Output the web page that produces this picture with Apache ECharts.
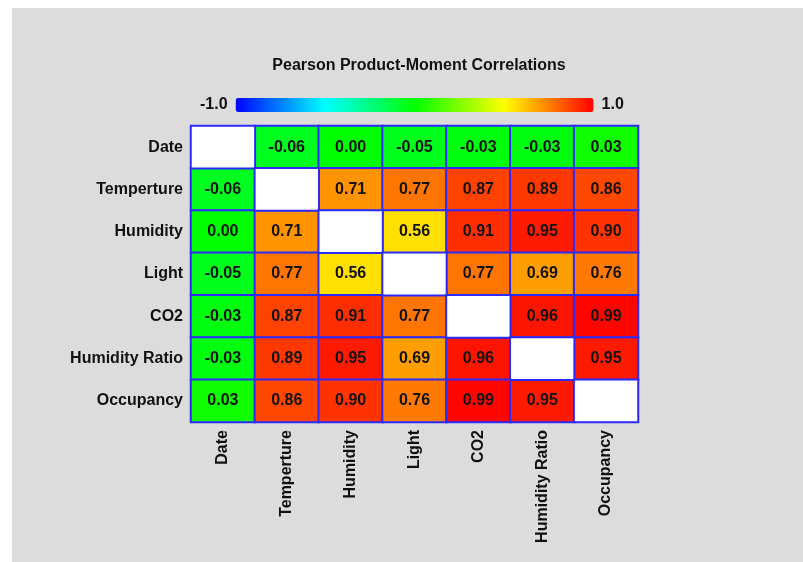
<!DOCTYPE html>
<html>
<head>
<meta charset="utf-8">
<script src="https://cdn.jsdelivr.net/npm/echarts@6/dist/echarts.min.js"></script>
<style>
  html, body { margin: 0; padding: 0; background: #ffffff; }
  #chart { width: 803px; height: 562px; }
</style>
</head>
<body>
<div id="chart"></div>
<script>
// Variables compared in the correlation matrix (rows top to bottom, columns left to right)
const variables = ['Date', 'Temperture', 'Humidity', 'Light', 'CO2', 'Humidity Ratio', 'Occupancy'];

// Pearson coefficients, one array per row variable
const rowDate          = [1.00, -0.06, 0.00, -0.05, -0.03, -0.03, 0.03];
const rowTemperture    = [-0.06, 1.00, 0.71, 0.77, 0.87, 0.89, 0.86];
const rowHumidity      = [0.00, 0.71, 1.00, 0.56, 0.91, 0.95, 0.90];
const rowLight         = [-0.05, 0.77, 0.56, 1.00, 0.77, 0.69, 0.76];
const rowCO2           = [-0.03, 0.87, 0.91, 0.77, 1.00, 0.96, 0.99];
const rowHumidityRatio = [-0.03, 0.89, 0.95, 0.69, 0.96, 1.00, 0.95];
const rowOccupancy     = [0.03, 0.86, 0.90, 0.76, 0.99, 0.95, 1.00];

const scaleMin = -1.0;
const scaleMax = 1.0;
const scaleLabels = ['1.0', '-1.0'];
const chartTitle = 'Pearson Product-Moment Correlations';

const rows = [rowDate, rowTemperture, rowHumidity, rowLight, rowCO2, rowHumidityRatio, rowOccupancy];

// Split cells into the off-diagonal coefficients and the blank diagonal
const offDiag = [];
const diag = [];
rows.forEach((row, r) => {
  row.forEach((v, c) => {
    if (r === c) diag.push([c, r, v]);
    else offDiag.push([c, r, v]);
  });
});

const FONT = 'Liberation Sans, Arial, sans-serif';
const cellBorder = '#2a2aff';

const chart = echarts.init(document.getElementById('chart'), null, { renderer: 'canvas' });
chart.setOption({
  backgroundColor: '#ffffff',
  animation: false,
  graphic: [{
    type: 'rect',
    z: -10,
    silent: true,
    shape: { x: 12, y: 8, width: 791, height: 554 },
    style: { fill: '#dcdcdc' }
  }],
  title: {
    text: chartTitle,
    left: 414,
    top: 53,
    textAlign: 'center',
    textStyle: { fontFamily: FONT, fontSize: 16, fontWeight: 'bold', color: '#111111' }
  },
  visualMap: {
    type: 'continuous',
    seriesIndex: 0,
    min: scaleMin,
    max: scaleMax,
    orient: 'horizontal',
    calculable: false,
    left: 185,
    top: 82,
    itemWidth: 14,
    itemHeight: 358,
    itemGap: 8,
    text: scaleLabels,
    textGap: 8,
    textStyle: { fontFamily: FONT, fontSize: 16, fontWeight: 'bold', color: '#111111' },
    inRange: { color: ['#0000ff', '#00ffff', '#00ff00', '#ffff00', '#ff0000'] }
  },
  grid: {
    left: 191,
    top: 126,
    width: 447,
    height: 296,
    show: true,
    borderColor: cellBorder,
    borderWidth: 2,
    backgroundColor: 'transparent'
  },
  xAxis: {
    type: 'category',
    data: variables,
    position: 'bottom',
    axisLine: { show: false },
    axisTick: { show: false },
    splitLine: { show: false },
    axisLabel: {
      rotate: 90,
      margin: 8,
      interval: 0,
      fontFamily: FONT,
      fontSize: 16,
      fontWeight: 'bold',
      color: '#111111'
    }
  },
  yAxis: {
    type: 'category',
    data: variables,
    inverse: true,
    axisLine: { show: false },
    axisTick: { show: false },
    splitLine: { show: false },
    axisLabel: {
      margin: 8,
      interval: 0,
      fontFamily: FONT,
      fontSize: 16,
      fontWeight: 'bold',
      color: '#111111'
    }
  },
  series: [
    {
      type: 'heatmap',
      data: offDiag,
      itemStyle: { borderColor: cellBorder, borderWidth: 2 },
      label: {
        show: true,
        fontFamily: FONT,
        fontSize: 16,
        fontWeight: 'bold',
        color: '#111111',
        formatter: p => p.value[2].toFixed(2)
      },
      emphasis: { disabled: true }
    },
    {
      type: 'heatmap',
      data: diag,
      itemStyle: { color: '#ffffff', borderColor: cellBorder, borderWidth: 2 },
      label: { show: false },
      emphasis: { disabled: true }
    }
  ]
});
</script>
</body>
</html>
